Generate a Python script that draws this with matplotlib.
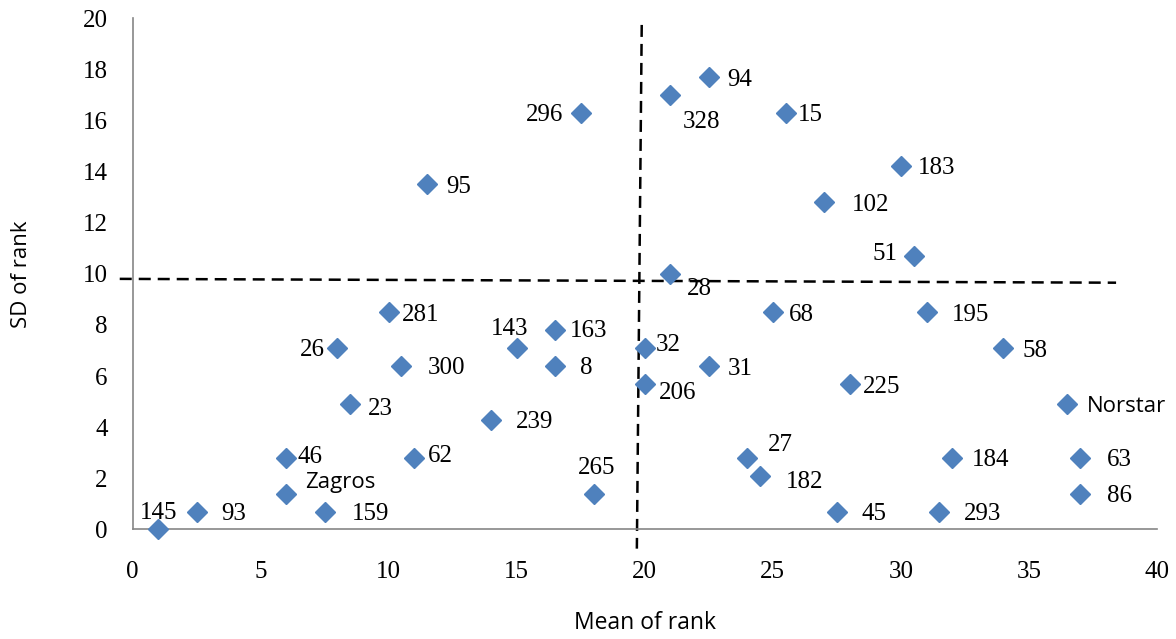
import matplotlib
matplotlib.use("Agg")
import matplotlib.pyplot as plt

# data: mean of rank, SD of rank, label
mean_rank = [1, 2.5, 6, 7.5, 6, 11, 8.5, 8, 10, 10.5, 11.5, 14, 15, 16.5, 16.5,
             17.5, 18, 20, 20, 21, 21, 22.5, 22.5, 25.5, 25, 24, 24.5, 27, 27.5,
             28, 30, 30.5, 31, 31.5, 32, 34, 36.5, 37, 37]
sd_rank = [0, 0.7, 1.4, 0.7, 2.8, 2.8, 4.9, 7.1, 8.5, 6.4, 13.5, 4.3, 7.1, 7.8, 6.4,
           16.3, 1.4, 7.1, 5.7, 10.0, 17.0, 17.7, 6.4, 16.3, 8.5, 2.8, 2.1, 12.8, 0.7,
           5.7, 14.2, 10.7, 8.5, 0.7, 2.8, 7.1, 4.9, 2.8, 1.4]
names = ['145', '93', 'Zagros', '159', '46', '62', '23', '26', '281', '300', '95',
         '239', '143', '163', '8', '296', '265', '32', '206', '28', '328', '94',
         '31', '15', '68', '27', '182', '102', '45', '225', '183', '51', '195',
         '293', '184', '58', 'Norstar', '63', '86']

# quadrant split lines (as drawn, slightly tilted)
hline_x = [-0.5, 38.4]
hline_y = [9.80, 9.65]
vline_x = [19.88, 19.69]
vline_y = [19.73, -0.75]

# label placement: (dx px, dy px, ha)
offsets = {
    '145': (0, 18, 'center'), '93': (25, 0, 'left'), 'Zagros': (19, 13, 'left'),
    '159': (27, 0, 'left'), '46': (11, 3, 'left'), '62': (14, 4, 'left'),
    '23': (18, -3, 'left'), '26': (-13, 0, 'right'), '281': (13, -1, 'left'),
    '300': (26, 0, 'left'), '95': (19, -1, 'left'), '239': (25, 0, 'left'),
    '143': (-7, 21, 'center'), '163': (15, 1, 'left'), '8': (25, 0, 'left'),
    '296': (-18, 0, 'right'), '265': (3, 28, 'center'), '32': (11, 5, 'left'),
    '206': (14, -7, 'left'), '28': (16, -13, 'left'), '328': (12, -25, 'left'),
    '94': (18, -1, 'left'), '31': (19, -1, 'left'), '15': (12, 0, 'left'),
    '68': (16, -1, 'left'), '27': (21, 15, 'left'), '182': (26, -4, 'left'),
    '102': (28, -1, 'left'), '45': (25, 0, 'left'), '225': (13, -1, 'left'),
    '183': (17, 0, 'left'), '51': (-16, 4, 'right'), '195': (25, -1, 'left'),
    '293': (25, 0, 'left'), '184': (20, 0, 'left'), '58': (19, -1, 'left'),
    'Norstar': (19, 0, 'left'), '63': (27, 0, 'left'), '86': (27, 0, 'left'),
}

serif = 'Liberation Serif'
sans = 'Open Sans'

fig = plt.figure(figsize=(11.76, 6.39), dpi=100)
ax = fig.add_axes([0.1127, 0.1714, 0.8712, 0.8004])

ax.plot(mean_rank, sd_rank, linestyle='none', marker='D', ms=10,
        color='#4F81BD', clip_on=False, zorder=3)

for x, y, name in zip(mean_rank, sd_rank, names):
    dx, dy, ha = offsets[name]
    fam = sans if name.isalpha() else serif
    fs = 16 if name.isalpha() else 18
    ax.annotate(name, (x, y), xytext=(dx, dy - 2), textcoords='offset pixels',
                ha=ha, va='center', fontsize=fs, family=fam, zorder=4)

dash = (0, (4.8, 2.8))
ax.plot(hline_x, hline_y, color='black', lw=1.8, linestyle=dash, clip_on=False)
ax.plot(vline_x, vline_y, color='black', lw=1.8, linestyle=dash, clip_on=False)

ax.set_xlim(0, 40)
ax.set_ylim(0, 20)
ax.set_xticks(range(0, 41, 5))
ax.set_yticks(range(0, 21, 2))
ax.tick_params(length=0, labelsize=18)
ax.tick_params(axis='x', pad=23)
ax.tick_params(axis='y', pad=18)
for lab in ax.get_xticklabels() + ax.get_yticklabels():
    lab.set_family(serif)

for side in ['top', 'right']:
    ax.spines[side].set_visible(False)
for side in ['left', 'bottom']:
    ax.spines[side].set_color('#868686')
    ax.spines[side].set_linewidth(1.2)

fig.text(0.5485, 1 - 623 / 639, 'Mean of rank', ha='center', va='center',
         fontsize=16.5, family=sans)
fig.text(22 / 1176, 1 - 274 / 639, 'SD of rank', ha='center', va='center',
         rotation=90, fontsize=16, family=sans)

fig.savefig('out.png', dpi=100)
